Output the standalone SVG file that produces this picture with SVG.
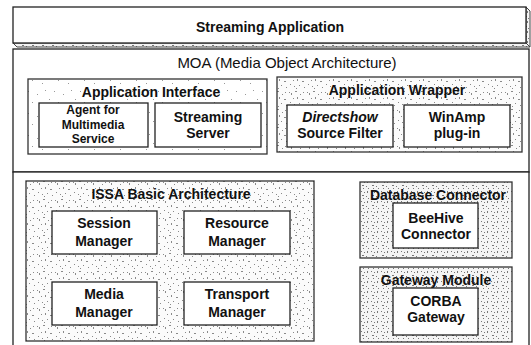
<svg xmlns="http://www.w3.org/2000/svg" width="531" height="345" viewBox="0 0 531 345">
  <defs>
    <!-- speckled grey texture used for the grouping panels -->
    <pattern id="speckle" width="18" height="18" patternUnits="userSpaceOnUse">
      <rect width="18" height="18" fill="#fbfbfb"/>
      <g fill="#8a8a8a">
        <rect x="1" y="2" width="1" height="1"/>
        <rect x="3" y="3" width="1" height="2"/>
        <rect x="7" y="1" width="2" height="1"/>
        <rect x="12" y="4" width="1" height="1"/>
        <rect x="15" y="2" width="1" height="1"/>
        <rect x="5" y="8" width="1" height="1"/>
        <rect x="9" y="7" width="1" height="2"/>
        <rect x="14" y="9" width="2" height="1"/>
        <rect x="2" y="12" width="1" height="1"/>
        <rect x="6" y="14" width="1" height="1"/>
        <rect x="11" y="13" width="1" height="1"/>
        <rect x="16" y="15" width="1" height="1"/>
        <rect x="8" y="16" width="1" height="1"/>
      </g>
    </pattern>
    <pattern id="speckle-sparse" width="26" height="22" patternUnits="userSpaceOnUse">
      <rect width="26" height="22" fill="#fff"/>
      <g fill="#999">
        <rect x="2" y="3" width="1" height="1"/>
        <rect x="11" y="6" width="1" height="1"/>
        <rect x="19" y="2" width="1" height="1"/>
        <rect x="6" y="14" width="1" height="1"/>
        <rect x="16" y="17" width="1" height="1"/>
        <rect x="23" y="11" width="1" height="1"/>
      </g>
    </pattern>
    <pattern id="speckle-dense" width="10" height="10" patternUnits="userSpaceOnUse">
      <rect width="10" height="10" fill="#f4f4f4"/>
      <g fill="#777">
        <rect x="1" y="1" width="1" height="1"/>
        <rect x="4" y="2" width="1" height="1"/>
        <rect x="7" y="1" width="1" height="2"/>
        <rect x="2" y="5" width="2" height="1"/>
        <rect x="6" y="6" width="1" height="1"/>
        <rect x="8" y="8" width="1" height="1"/>
        <rect x="3" y="8" width="1" height="1"/>
      </g>
    </pattern>
    <style>
      .frame { fill: #fff; stroke: #222; stroke-width: 1.3; }
      .panel { fill: url(#speckle); stroke: #333; stroke-width: 1.3; }
      .panel-sparse { fill: url(#speckle-sparse); stroke: #333; stroke-width: 1.3; }
      .panel-dense { fill: url(#speckle-dense); stroke: #333; stroke-width: 1.3; }
      .box { fill: #fff; stroke: #222; stroke-width: 1.3; }
      text { font-family: "Liberation Sans", Arial, sans-serif; fill: #111; text-anchor: middle; }
      .title { font-size: 14px; font-weight: bold; }
      .moa { font-size: 15px; }
      .label { font-size: 14px; font-weight: bold; }
      .small { font-size: 12px; font-weight: bold; }
    </style>
  </defs>

  <!-- top layer: application slab -->
  <g id="streaming-application">
    <polygon points="13,43 526,43 530,47 17,47" fill="url(#speckle-dense)" stroke="#444" stroke-width="1"/>
    <polygon points="526,7 530,11 530,47 526,43" fill="url(#speckle-dense)" stroke="#444" stroke-width="1"/>
    <rect class="frame" x="13" y="7" width="513" height="36"/>
    <text class="title" x="270" y="32">Streaming Application</text>
  </g>

  <!-- middleware layer -->
  <g id="moa">
    <rect class="frame" x="13" y="49" width="516" height="123"/>
    <text class="moa" x="287" y="68">MOA (Media Object Architecture)</text>
  </g>

  <g id="application-interface">
    <rect class="panel-sparse" x="28" y="79" width="239" height="75"/>
    <text class="label" x="151" y="97">Application Interface</text>
  </g>
  <g id="agent-multimedia">
    <rect class="box" x="39" y="103" width="109" height="44"/>
    <text class="small" x="93" y="114">Agent for</text>
    <text class="small" x="93" y="129">Multimedia</text>
    <text class="small" x="93" y="143">Service</text>
  </g>
  <g id="streaming-server">
    <rect class="box" x="155" y="103" width="106" height="44"/>
    <text class="label" x="208" y="122">Streaming</text>
    <text class="label" x="208" y="138">Server</text>
  </g>

  <g id="application-wrapper">
    <rect class="panel" x="277" y="77" width="245" height="75"/>
    <text class="label" x="397" y="95">Application Wrapper</text>
  </g>
  <g id="directshow">
    <rect class="box" x="287" y="105" width="106" height="42"/>
    <text class="label" x="340" y="122" font-style="italic">Directshow</text>
    <text class="label" x="340" y="138">Source Filter</text>
  </g>
  <g id="winamp">
    <rect class="box" x="404" y="105" width="106" height="42"/>
    <text class="label" x="457" y="122">WinAmp</text>
    <text class="label" x="457" y="138">plug-in</text>
  </g>

  <!-- lower layer -->
  <g id="platform">
    <rect class="frame" x="13" y="172" width="516" height="180"/>
  </g>

  <g id="issa">
    <rect class="panel" x="26" y="181" width="288" height="160"/>
    <text class="label" x="171" y="199">ISSA Basic Architecture</text>
  </g>
  <g id="session-manager">
    <rect class="box" x="52" y="211" width="105" height="43"/>
    <text class="label" x="104" y="228">Session</text>
    <text class="label" x="104" y="246">Manager</text>
  </g>
  <g id="resource-manager">
    <rect class="box" x="184" y="211" width="106" height="43"/>
    <text class="label" x="237" y="228">Resource</text>
    <text class="label" x="237" y="246">Manager</text>
  </g>
  <g id="media-manager">
    <rect class="box" x="52" y="282" width="105" height="43"/>
    <text class="label" x="104" y="299">Media</text>
    <text class="label" x="104" y="317">Manager</text>
  </g>
  <g id="transport-manager">
    <rect class="box" x="184" y="282" width="106" height="43"/>
    <text class="label" x="237" y="299">Transport</text>
    <text class="label" x="237" y="317">Manager</text>
  </g>

  <g id="database-connector">
    <rect class="panel-dense" x="360" y="182" width="152" height="76"/>
    <text class="label" x="438" y="200">Database Connector</text>
  </g>
  <g id="beehive-connector">
    <rect class="box" x="393" y="203" width="85" height="45"/>
    <text class="label" x="436" y="223">BeeHive</text>
    <text class="label" x="436" y="239">Connector</text>
  </g>

  <g id="gateway-module">
    <rect class="panel-dense" x="360" y="267" width="152" height="75"/>
    <text class="label" x="436" y="285">Gateway Module</text>
  </g>
  <g id="corba-gateway">
    <rect class="box" x="393" y="288" width="85" height="47"/>
    <text class="label" x="436" y="306">CORBA</text>
    <text class="label" x="436" y="322">Gateway</text>
  </g>

  <g id="connectors"></g>
</svg>
